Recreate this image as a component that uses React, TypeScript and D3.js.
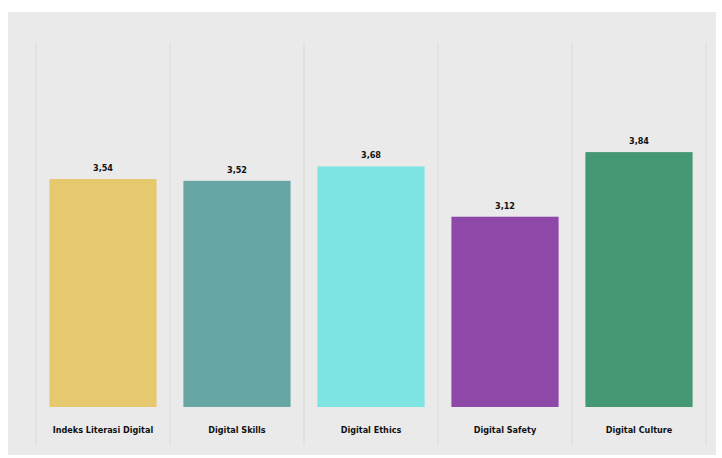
import React from "react";
import * as d3 from "d3";

const categories = ["Indeks Literasi Digital", "Digital Skills", "Digital Ethics", "Digital Safety", "Digital Culture"];
const values = [3.54, 3.52, 3.68, 3.12, 3.84];
const valueLabels = ["3,54", "3,52", "3,68", "3,12", "3,84"];
const colors = ["#e6c86f", "#68a6a4", "#7de4e1", "#8e48a8", "#459874"];

const W = 722;
const H = 458;

export default function App() {
  const x = d3.scaleBand<string>().domain(categories).range([36, 706]).paddingInner(0.2).paddingOuter(0.1);
  const y = d3.scaleLinear().domain([1, 5]).range([407, 48]);
  const bounds = d3.range(categories.length + 1).map((i) => 36 + i * ((706 - 36) / categories.length));
  const font = "'DejaVu Sans Condensed', 'DejaVu Sans', sans-serif";
  return (
    <svg width={W} height={H} style={{ position: "absolute", left: 0, top: 0 }}>
      <rect x={0} y={0} width={W} height={H} fill="#ffffff" />
      <rect x={8} y={12} width={708} height={443} fill="#eaeaea" />
      {bounds.map((bx, i) => (
        <line key={i} x1={bx} x2={bx} y1={43} y2={445} stroke="#dcdcdc" strokeWidth={1.2} />
      ))}
      {categories.map((c, i) => {
        const bx = x(c) as number;
        const bw = x.bandwidth();
        return (
          <g key={c}>
            <rect x={bx} y={y(values[i])} width={bw} height={y(1) - y(values[i])} fill={colors[i]} />
            <text
              x={bx + bw / 2}
              y={y(values[i]) - 8}
              textAnchor="middle"
              fontFamily={font}
              fontWeight="bold"
              fontSize={9}
              fill="#111"
            >
              {valueLabels[i]}
            </text>
            <text
              x={bx + bw / 2}
              y={433}
              textAnchor="middle"
              fontFamily={font}
              fontWeight="bold"
              fontSize={9}
              fill="#111"
            >
              {c}
            </text>
          </g>
        );
      })}
    </svg>
  );
}
